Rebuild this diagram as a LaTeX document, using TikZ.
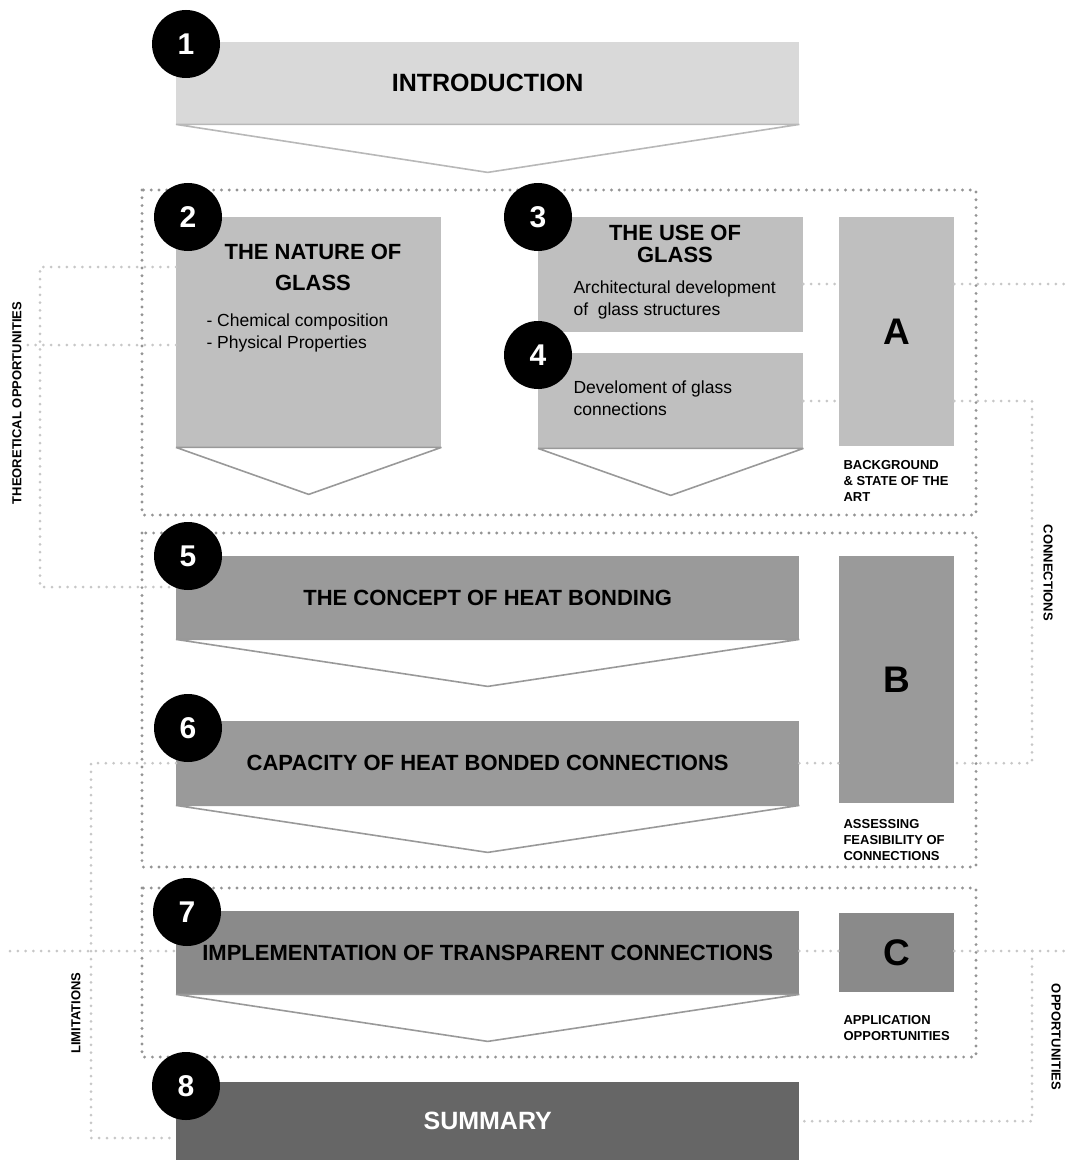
\documentclass[tikz,border=0pt]{standalone}
\usepackage{fontspec}
\setmainfont{Liberation Sans}
\definecolor{introgrey}{HTML}{D9D9D9}
\definecolor{lightgrey}{HTML}{BFBFBF}
\definecolor{midgrey}{HTML}{9A9A9A}
\definecolor{deepgrey}{HTML}{8A8A8A}
\definecolor{darkgrey}{HTML}{666666}
\begin{document}
\begin{tikzpicture}[x=1pt,y=-1pt,
        frame/.style={draw=black!42, line width=3.2, line cap=round, dash pattern=on 0pt off 7.8pt},
        link/.style={draw=black!22, line width=3, line cap=round, dash pattern=on 0pt off 7.8pt},
        box/.style={anchor=north west, inner sep=0pt},
        chevron/.style={draw=black!40, line width=1.6, line join=bevel, fill=white},
        num/.style={circle, fill=black, minimum size=68, inner sep=0pt, text=white, font=\fontsize{30}{30}\selectfont\bfseries},
        bigtitle/.style={font=\fontsize{25}{30}\selectfont\bfseries},
        title/.style={font=\fontsize{22}{22}\selectfont\bfseries, align=center},
        body/.style={font=\fontsize{17.5}{22}\selectfont, align=left, anchor=north west},
        note/.style={font=\fontsize{13}{16}\selectfont\bfseries, align=left, anchor=north west},
        side/.style={font=\fontsize{13}{13}\selectfont\bfseries},
        letter/.style={font=\fontsize{37}{37}\selectfont\bfseries}]
    \useasboundingbox (0,0) rectangle (1068,1161);

    % dotted frames round the parts
    \foreach \t/\b in {190/515, 533/867, 888/1057}
        \draw[frame] (142,\t) rectangle (976,\b);

    % chapter boxes
    \node[box, fill=introgrey, minimum width=623, minimum height=82, bigtitle] (intro) at (176,42) {INTRODUCTION};
    \node[box, fill=lightgrey, minimum width=265, minimum height=230] (b2) at (176,217) {};
    \node[box, fill=lightgrey, minimum width=265, minimum height=115] (b3) at (538,217) {};
    \node[box, fill=lightgrey, minimum width=265, minimum height=95] (b4) at (538,353) {};
    \node[box, fill=lightgrey, minimum width=115, minimum height=229, letter] (bA) at (839,217) {A};
    \node[box, fill=midgrey, minimum width=623, minimum height=83, title] (b5) at (176,556) {THE CONCEPT OF HEAT BONDING};
    \node[box, fill=midgrey, minimum width=623, minimum height=84, title] (b6) at (176,721) {CAPACITY OF HEAT BONDED CONNECTIONS};
    \node[box, fill=midgrey, minimum width=115, minimum height=247, letter] (bB) at (839,556) {B};
    \node[box, fill=deepgrey, minimum width=623, minimum height=83, title] (b7) at (176,911) {IMPLEMENTATION OF TRANSPARENT CONNECTIONS};
    \node[box, fill=deepgrey, minimum width=115, minimum height=79, letter] (bC) at (839,913) {C};
    \node[box, fill=darkgrey, minimum width=623, minimum height=78, bigtitle, text=white] (b8) at (176,1082) {SUMMARY};

    % texts inside the upper boxes
    \node[title, font=\fontsize{22}{31}\selectfont\bfseries] (t2) at (313,267.5) {THE NATURE OF\\GLASS};
    \node[body] (d2) at (203,310) {- Chemical composition\\- Physical Properties};
    \node[title] (t3) at (675,244) {THE USE OF\\GLASS};
    \node[body] (d3) at (570,277) {Architectural development\\of\ \ glass structures};
    \node[body] (d4) at (570,377) {Develoment of glass\\connections};

    % arrows below the boxes
    \foreach \b in {b2, b4, b5, b6, b7}
        \draw[chevron] (\b.south west) -- ([yshift=-47pt]\b.south) -- (\b.south east) -- cycle;
    \draw[chevron, draw=black!28] (intro.south west) -- ([yshift=-48pt]intro.south) -- (intro.south east) -- cycle;

    % captions of the parts
    \node[note] (capA) at (840,457) {BACKGROUND\\\& STATE OF THE\\ART};
    \node[note] (capB) at (840,816) {ASSESSING\\FEASIBILITY OF\\CONNECTIONS};
    \node[note] (capC) at (840,1012) {APPLICATION\\OPPORTUNITIES};

    % links between the chapters
    \coordinate (theoA) at (40,267);
    \coordinate (theoB) at (40,587);
    \coordinate (theoC) at (25,345);
    \coordinate (connA) at (1068,284);
    \coordinate (connB) at (1032,401);
    \coordinate (limA) at (91,1138);
    \coordinate (limB) at (10,951);
    \coordinate (oppA) at (1068,951);
    \coordinate (oppB) at (1032,951);
    \draw[link] (b2.west |- theoA) -- (theoA) -- (theoB) -- (b5.west |- theoB);
    \draw[link] (b2.west |- theoC) -- (theoC);
    \draw[link] (b3.east |- connA) -- (bA.west |- connA);
    \draw[link] (bA.east |- connA) -- (connA);
    \draw[link] (b4.east |- connB) -- (bA.west |- connB);
    \draw[link] (bA.east |- connB) -- (connB) |- (bB.east |- b6.east);
    \draw[link] (b6.east) -- (bB.west |- b6.east);
    \draw[link] (b6.west) -- (limA |- b6.west) -- (limA) -- (b8.west |- limA);
    \draw[link] (limB) -- (b7.west |- limB);
    \draw[link] (b7.east |- limB) -- (bC.west |- limB);
    \draw[link] (bC.east |- oppA) -- (oppA);
    \draw[link] (oppB) |- (b8.east);

    \node[side, rotate=90] (theo) at (17,403) {THEORETICAL OPPORTUNITIES};
    \node[side, rotate=-90] (conn) at (1048,573) {CONNECTIONS};
    \node[side, rotate=90] (lim) at (76,1013) {LIMITATIONS};
    \node[side, rotate=-90] (opp) at (1056,1037) {OPPORTUNITIES};

    % chapter numbers
    \foreach \n/\x/\y in {1/186/44, 2/188/217, 3/538/217, 4/538/355, 5/188/556, 6/188/728, 7/187/912, 8/186/1086}
        \node[num] (n\n) at (\x,\y) {\n};
\end{tikzpicture}
\end{document}
